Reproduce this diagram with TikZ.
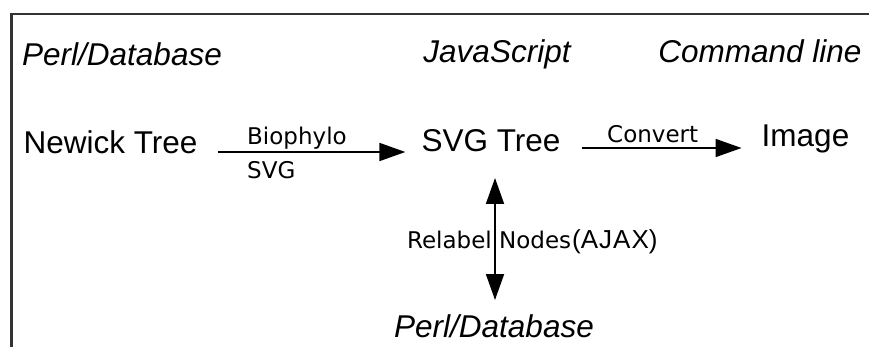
\documentclass[tikz,border=0pt]{standalone}
\usepackage{fontspec}
\setmainfont{Liberation Sans}
\newfontfamily\labelfont{DejaVu Sans}
\usetikzlibrary{arrows.meta}

\tikzset{
  main/.style={font=\fontsize{31.5}{38}\selectfont, inner sep=0pt, anchor=base},
  place/.style={main, font=\fontsize{31.5}{38}\selectfont\itshape},
  lbl/.style={font=\labelfont\fontsize{23}{28}\selectfont, inner sep=0pt, anchor=base west},
  tip/.tip={Triangle[length=26pt,width=18pt]},
  flow/.style={line width=1.8pt, -tip},
  dflow/.style={line width=1.8pt, tip-tip},
  frame/.style={line width=2.2pt, draw=black!80}
}

\begin{document}
\begin{tikzpicture}[x=1pt,y=-1pt]
  \useasboundingbox (0,0) rectangle (869,347);
  \clip (0,0) rectangle (869,347);

  % open frame: left and top edges only
  \draw[frame] (11.5,360) -- (11.5,14) -- (880,14);

  % environment headings
  \node[place] (pdbTop) at (122,66) {Perl/Database};
  \node[place] (js) at (497,63) {JavaScript};
  \node[place] (cmd) at (760,63) {Command line};

  % data stages
  \node[main] (newick) at (110.5,154) {Newick Tree};
  \node[main] (svg) at (491,152) {SVG Tree};
  \node[main] (image) at (805.5,147) {Image};
  \node[place] (pdbBottom) at (494,337) {Perl/Database};

  % connectors
  \draw[flow] ([shift={(20,-2)}]newick.base east) -- ([shift={(-16,0)}]svg.base west);
  \draw[flow] ([shift={(21,-4)}]svg.base east) -- ([shift={(-20,1)}]image.base west);
  \draw[dflow] ([shift={(4,26)}]svg.base) -- ([shift={(1,-37)}]pdbBottom.base);

  % connector labels
  \node[lbl] (biophylo) at (247,145) {Biophylo};
  \node[lbl] (svgVia) at (247,179) {SVG};
  \node[lbl] (convert) at (607,143) {Convert};
  \node[lbl, anchor=base east] (relabel) at (492,248) {Relabel};
  \node[lbl] (nodes) at (499,248) {Nodes};
  \node[lbl, font=\fontsize{26}{30}\selectfont] (ajax) at (572,248) {(A\kern1pt J\kern1pt A\kern1pt X)};
\end{tikzpicture}
\end{document}
